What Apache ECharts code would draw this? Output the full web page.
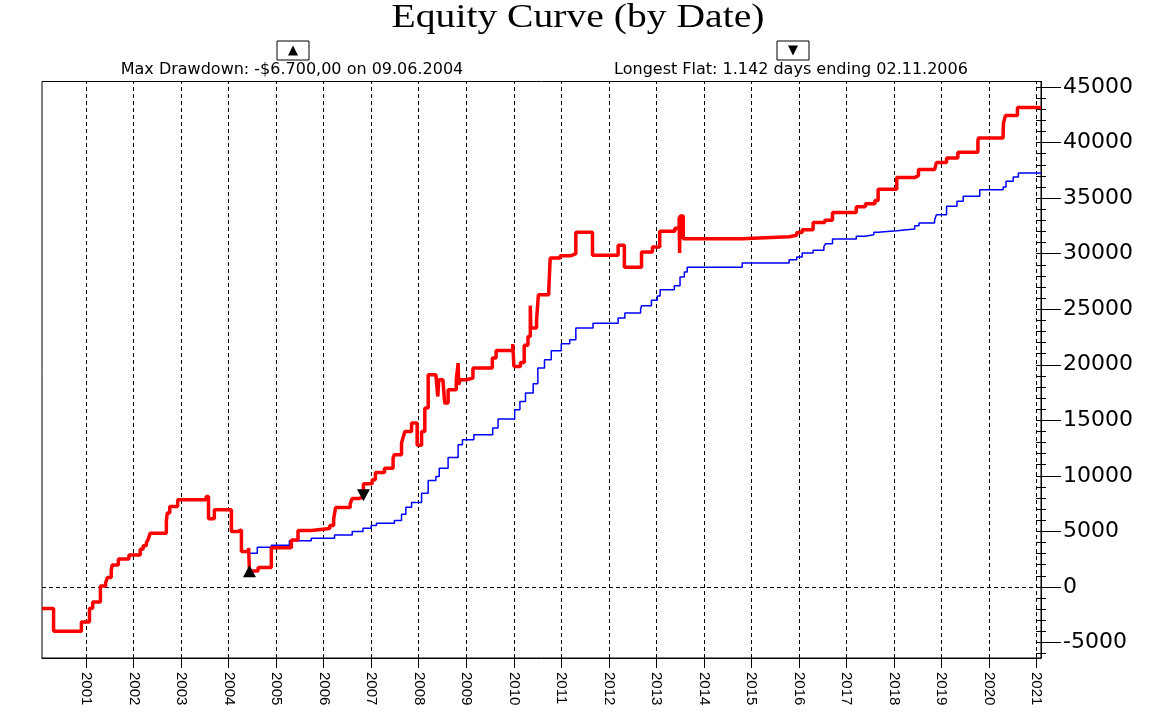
<!DOCTYPE html>
<html>
<head>
<meta charset="utf-8">
<script src="https://cdn.jsdelivr.net/npm/echarts@6/dist/echarts.min.js"></script>
<style>
html,body{margin:0;padding:0;background:#fff;}
#chart{width:1157px;height:725px;}
</style>
</head>
<body>
<div id="chart"></div>
<script>
// ---- data ----
var redDates = ['2000-01-27','2000-04-25','2000-11-25','2001-01-26','2001-02-20','2001-04-20','2001-05-30','2001-06-13','2001-07-12','2001-07-20','2001-09-05','2001-11-25','2002-02-20','2002-03-14','2002-04-08','2002-04-23','2002-05-08','2002-09-09','2002-09-16','2002-10-05','2002-12-05','2003-07-12','2003-07-30','2003-09-13','2004-01-22','2004-03-13','2004-04-08','2004-06-02','2004-06-09','2004-08-14','2004-11-24','2005-04-27','2005-06-17','2005-09-27','2006-02-16','2006-03-18','2006-04-02','2006-07-23','2006-08-07','2006-09-27','2006-11-02','2007-01-08','2007-02-02','2007-04-13','2007-06-18','2007-06-28','2007-08-22','2007-09-02','2007-09-17','2007-11-07','2007-12-20','2008-01-23','2008-02-17','2008-03-14','2008-05-12','2008-05-27','2008-06-03','2008-07-05','2008-07-19','2008-08-14','2008-10-16','2008-10-30','2008-11-03','2008-11-14','2009-01-01','2009-02-21','2009-07-20','2009-08-18','2009-12-24','2010-01-02','2010-02-21','2010-03-22','2010-04-20','2010-05-08','2010-05-12','2010-06-25','2010-07-09','2010-09-27','2010-10-08','2010-12-24','2011-03-18','2011-04-23','2011-08-29','2012-03-13','2012-04-30','2012-09-09','2012-12-02','2013-01-27','2013-05-23','2013-06-25','2013-06-29','2013-07-02','2013-07-27','2014-10-19','2015-10-19','2015-12-16','2016-01-27','2016-04-20','2016-07-19','2016-09-16','2017-03-18','2017-05-27','2017-08-08','2017-09-02','2018-01-23','2018-06-10','2018-07-09','2018-11-10','2018-11-24','2019-02-10','2019-05-08','2019-10-09','2019-10-13','2020-04-20','2020-04-23','2020-05-08','2020-08-08','2021-02-05'];
var redValues = [-1950,-4000,-3150,-1920,-1350,90,390,840,1470,1980,2520,2880,3400,3700,3950,4300,4840,5880,6660,7230,7840,8140,6130,6940,4980,5130,3180,3510,1440,1740,3520,4230,5070,5250,5530,6110,7150,7480,7950,8100,9280,9640,10300,10690,11590,11900,12950,13400,13990,14750,12750,14000,16100,19100,18950,17140,18650,18500,16550,17750,18650,20150,18200,18650,18800,19700,20600,21290,21860,19850,20200,21750,22550,25320,23300,24000,26300,26760,29610,29820,30000,31920,29850,30750,28770,30150,30600,32010,32280,33250,30060,33400,31350,31530,31650,31900,32150,32800,33000,33700,34230,34500,34790,35800,36850,37030,37570,37720,38200,38620,39130,40120,40420,41000,41780,42450,43170,43170];

var blueDates = ['2004-06-13','2004-08-08','2004-11-24','2005-04-12','2005-09-27','2006-03-25','2006-08-08','2006-10-30','2007-01-01','2007-02-10','2007-06-28','2007-08-22','2007-09-24','2007-11-07','2008-01-23','2008-03-14','2008-05-12','2008-06-07','2008-08-14','2008-10-30','2008-12-02','2009-02-28','2009-07-23','2009-09-02','2010-01-08','2010-02-17','2010-04-01','2010-05-30','2010-07-05','2010-08-25','2010-10-16','2011-01-01','2011-03-07','2011-04-23','2011-09-02','2012-03-13','2012-05-04','2012-09-02','2012-09-09','2012-11-24','2013-01-08','2013-01-30','2013-05-19','2013-07-02','2013-08-04','2013-08-26','2014-10-23','2015-10-19','2015-12-16','2016-01-27','2016-04-20','2016-07-12','2016-07-26','2016-09-16','2017-03-18','2017-05-23','2017-07-31','2017-09-02','2018-01-23','2018-06-10','2018-07-13','2018-11-10','2018-11-24','2019-02-10','2019-05-01','2019-06-18','2019-10-23','2020-04-20','2020-05-12','2020-07-06','2020-08-15','2021-02-05'];
var blueValues = [3030,3560,3750,4150,4390,4680,4980,5290,5530,5740,5970,6550,7180,7600,8440,9580,9940,10690,11650,12790,13240,13690,14300,15110,15950,16690,17450,18290,19700,20450,21260,21890,22250,23300,23730,24200,24660,25020,25320,25800,26200,26760,27120,27900,28350,28770,29160,29460,29700,30060,30300,30660,30900,31320,31560,31700,31920,32070,32220,32520,32760,33060,33510,34260,34710,35160,35760,36000,36510,36910,37270,37270];

var drawdownPoint = ['2004-06-09', 1400];
var flatPoint = ['2006-11-02', 8250];

var yearLabels = ['2001','2002','2003','2004','2005','2006','2007','2008','2009','2010','2011','2012','2013','2014','2015','2016','2017','2018','2019','2020','2021'];
var yTickLabels = [-5000,0,5000,10000,15000,20000,25000,30000,35000,40000,45000];
var yMinorTicks = [-6000,-5000,-4000,-3000,-2000,-1000,0,1000,2000,3000,4000,5000,6000,7000,8000,9000,10000,11000,12000,13000,14000,15000,16000,17000,18000,19000,20000,21000,22000,23000,24000,25000,26000,27000,28000,29000,30000,31000,32000,33000,34000,35000,36000,37000,38000,39000,40000,41000,42000,43000,44000,45000];

var titleText = 'Equity Curve (by Date)';
var ddText = 'Max Drawdown: -$6.700,00 on 09.06.2004';
var flatText = 'Longest Flat: 1.142 days ending 02.11.2006';

// ---- build ----
function ts(d){ return new Date(d + 'T00:00:00Z').getTime(); }
var yearTs = yearLabels.map(function(y){ return ts(y + '-01-01'); });
var redData = redDates.map(function(d,i){ return [ts(d), redValues[i]]; });
var blueData = blueDates.map(function(d,i){ return [ts(d), blueValues[i]]; });

var yMin = -6400, yMax = 45500;
var xMin = ts('2000-01-27'), xMax = ts('2021-02-05');

var chart = echarts.init(document.getElementById('chart'));
var dashStyle = {color:'#000', width:1, type:[4,3]};

var markLines = yearTs.map(function(t){ return {xAxis: t}; });
markLines.push({yAxis: 0});

function tri(cx, cy, up){
  return up ? [[cx-5,cy+5],[cx+5,cy+5],[cx,cy-5]] : [[cx-5,cy-5],[cx+5,cy-5],[cx,cy+5]];
}

var option = {
  animation:false,
  backgroundColor:'#fff',
  graphic:[
    {type:'text', x:578, y:18, scaleX:1.2, style:{text:titleText, fontFamily:'Liberation Serif', fontSize:33, fill:'#000', align:'center', verticalAlign:'middle'}},
    {type:'rect', shape:{x:277, y:41, width:32, height:19}, style:{fill:'#fff', stroke:'#000', lineWidth:1}},
    {type:'polygon', shape:{points:tri(293,50.5,true)}, style:{fill:'#000'}},
    {type:'rect', shape:{x:777, y:41, width:32, height:19}, style:{fill:'#fff', stroke:'#000', lineWidth:1}},
    {type:'polygon', shape:{points:tri(793,50.5,false)}, style:{fill:'#000'}},
    {type:'text', x:292, y:70, style:{text:ddText, fontFamily:'DejaVu Sans', fontSize:16, fill:'#000', align:'center', verticalAlign:'middle'}},
    {type:'text', x:791, y:70, style:{text:flatText, fontFamily:'DejaVu Sans', fontSize:16, fill:'#000', align:'center', verticalAlign:'middle'}}
  ],
  grid:{left:42, right:116, top:81.5, bottom:67, show:true, borderColor:'#000', borderWidth:1, backgroundColor:'#fff'},
  xAxis:{
    type:'value', min:xMin, max:xMax,
    axisLine:{show:true, onZero:false, lineStyle:{color:'#000', width:1}},
    axisTick:{show:true, customValues:yearTs, length:10, lineStyle:{color:'#000'}},
    axisLabel:{customValues:yearTs, rotate:-90, margin:14, color:'#000', fontFamily:'Liberation Sans', fontSize:15,
      formatter:function(v){ return String(new Date(v).getUTCFullYear()); }},
    splitLine:{show:false}
  },
  yAxis:[
    {type:'value', position:'right', min:yMin, max:yMax,
      axisLine:{show:true, onZero:false, lineStyle:{color:'#000', width:1}},
      axisTick:{show:true, customValues:yTickLabels, length:20, lineStyle:{color:'#000'}},
      axisLabel:{customValues:yTickLabels, margin:22, color:'#000', fontFamily:'DejaVu Sans', fontSize:22,
        formatter:function(v){ return String(v); }},
      splitLine:{show:false}},
    {type:'value', position:'right', min:yMin, max:yMax,
      axisLine:{show:false},
      axisTick:{show:true, inside:true, customValues:yMinorTicks, length:5, lineStyle:{color:'#000'}},
      axisLabel:{show:false}, splitLine:{show:false}},
    {type:'value', position:'right', min:yMin, max:yMax,
      axisLine:{show:false},
      axisTick:{show:true, inside:false, customValues:yMinorTicks, length:5, lineStyle:{color:'#000'}},
      axisLabel:{show:false}, splitLine:{show:false}}
  ],
  series:[
    {type:'line', name:'blue', data:blueData, step:'end', showSymbol:false, symbol:'none',
      lineStyle:{color:'#0000ff', width:1.5}, z:3,
      markLine:{silent:true, symbol:['none','none'], label:{show:false}, lineStyle:dashStyle, data:markLines, z:1}},
    {type:'line', name:'red', data:redData, step:'end', showSymbol:false, symbol:'none',
      lineStyle:{color:'#ff0000', width:3.5}, z:4},
    {type:'scatter', data:[[ts(drawdownPoint[0]), drawdownPoint[1]]], symbol:'triangle', symbolSize:[13,12],
      itemStyle:{color:'#000', opacity:1}, z:6},
    {type:'scatter', data:[[ts(flatPoint[0]), flatPoint[1]]], symbol:'triangle', symbolRotate:180, symbolSize:[13,12],
      itemStyle:{color:'#000', opacity:1}, z:6}
  ]
};
chart.setOption(option);
</script>
</body>
</html>
